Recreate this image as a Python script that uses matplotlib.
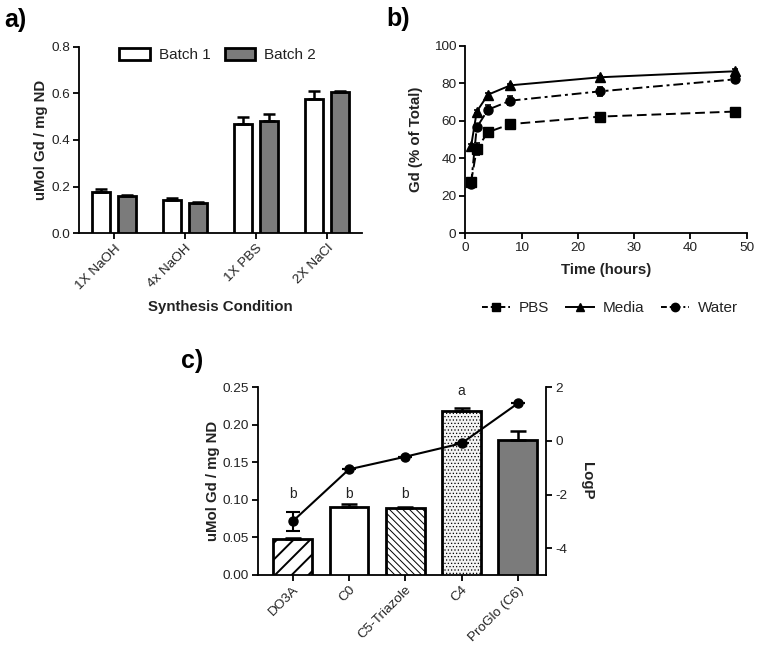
import matplotlib
matplotlib.use("Agg")
import matplotlib.pyplot as plt
import numpy as np
from matplotlib.patches import Patch
from matplotlib.lines import Line2D

plt.rcParams['font.family'] = ['Liberation Sans', 'DejaVu Sans']
plt.rcParams['axes.unicode_minus'] = False
plt.rcParams['hatch.linewidth'] = 1.3

# ---------- data ----------
# panel a
cond_labels = ["1X NaOH", "4x NaOH", "1X PBS", "2X NaCl"]
batch1 = [0.178, 0.143, 0.469, 0.576]
batch1_err = [0.012, 0.008, 0.028, 0.035]
batch2 = [0.161, 0.130, 0.483, 0.604]
batch2_err = [0.002, 0.003, 0.028, 0.006]

# panel b
time_h = [1, 2, 4, 8, 24, 48]
pbs = [27.5, 45.0, 54.0, 58.3, 62.3, 65.0]
pbs_err = [1.5, 3.0, 1.2, 1.0, 1.0, 1.0]
media = [46.5, 65.0, 74.0, 79.0, 83.3, 86.5]
media_err = [1.0, 1.0, 1.0, 0.8, 0.8, 1.0]
water = [26.5, 56.5, 66.0, 70.8, 75.8, 82.2]
water_err = [1.5, 1.5, 2.5, 2.5, 2.5, 1.5]

# panel c
chel_labels = ["DO3A", "C0", "C5-Triazole", "C4", "ProGlo (C6)"]
gd_vals = [0.048, 0.091, 0.089, 0.219, 0.180]
gd_err = [0.001, 0.004, 0.002, 0.003, 0.012]
sig_letters = ["b", "b", "b", "a", ""]
sig_heights = [0.108, 0.108, 0.108, 0.245, 0.0]
logp = [-3.0, -1.06, -0.59, -0.09, 1.4]
logp_err = [0.35, 0, 0, 0, 0]

TXT = '#222222'
TICK = 9.7
LAB = 10.8

fig = plt.figure(figsize=(7.58, 6.52), dpi=100)

def style_ax(ax):
    for s in ['top', 'right']:
        ax.spines[s].set_visible(False)
    for s in ['left', 'bottom']:
        ax.spines[s].set_linewidth(1.3)
    ax.tick_params(direction='out', length=4, width=1.3, pad=2.5, labelsize=TICK,
                   colors='black', labelcolor=TXT)

# ---------- panel a ----------
axa = fig.add_axes([0.1046, 0.6422, 0.3726, 0.2862])
style_ax(axa)
x = np.arange(len(cond_labels))
w = 0.26
off = 0.185
axa.bar(x - off, batch1, w, color='white', edgecolor='black', linewidth=2,
        yerr=[np.zeros(len(x)), batch1_err], capsize=4.5,
        error_kw=dict(elinewidth=1.8, capthick=1.8, ecolor='black'), zorder=3)
axa.bar(x + off, batch2, w, color='#7b7b7b', edgecolor='black', linewidth=2,
        yerr=[np.zeros(len(x)), batch2_err], capsize=4.5,
        error_kw=dict(elinewidth=1.8, capthick=1.8, ecolor='black'), zorder=3)
axa.set_xlim(-0.49, 3.49)
axa.set_ylim(0, 0.8)
axa.set_yticks([0.0, 0.2, 0.4, 0.6, 0.8])
axa.set_yticklabels(["0.0", "0.2", "0.4", "0.6", "0.8"])
axa.set_xticks(x)
axa.set_xticklabels(cond_labels, rotation=45, ha='right', rotation_mode='anchor')
axa.set_ylabel("uMol Gd / mg ND", fontsize=LAB, fontweight='bold', color=TXT)
axa.yaxis.set_label_coords(-0.111, 0.5)
axa.set_xlabel("Synthesis Condition", fontsize=LAB, fontweight='bold', color=TXT)
axa.xaxis.set_label_coords(0.5, -0.357)
leg_a = axa.legend(handles=[Patch(facecolor='white', edgecolor='black', linewidth=2, label='Batch 1'),
                            Patch(facecolor='#7b7b7b', edgecolor='black', linewidth=2, label='Batch 2')],
                   loc='center', bbox_to_anchor=(0.49, 0.955), ncol=2, frameon=False,
                   fontsize=11, handlelength=2.0, handleheight=0.9, columnspacing=0.9,
                   handletextpad=0.6)
for t in leg_a.get_texts():
    t.set_color(TXT)

# ---------- panel b ----------
axb = fig.add_axes([0.6141, 0.6422, 0.371, 0.2873])
style_ax(axb)
ekw = dict(elinewidth=1.2, capsize=2.5, capthick=1.2, ecolor='black')
axb.errorbar(time_h, pbs, yerr=pbs_err, color='black', marker='s', markersize=6.5,
             linestyle=(0, (5, 2.5)), linewidth=1.4, **ekw, zorder=3)
axb.errorbar(time_h, media, yerr=media_err, color='black', marker='^', markersize=6.5,
             linestyle='-', linewidth=1.4, **ekw, zorder=3)
axb.errorbar(time_h, water, yerr=water_err, color='black', marker='o', markersize=6.5,
             linestyle=(0, (5, 2, 1.5, 2)), linewidth=1.4, **ekw, zorder=3)
axb.set_xlim(0, 50)
axb.set_ylim(0, 100)
axb.set_xticks([0, 10, 20, 30, 40, 50])
axb.set_yticks([0, 20, 40, 60, 80, 100])
axb.set_ylabel("Gd (% of Total)", fontsize=LAB, fontweight='bold', color=TXT)
axb.yaxis.set_label_coords(-0.150, 0.5)
axb.set_xlabel("Time (hours)", fontsize=LAB, fontweight='bold', color=TXT)
axb.xaxis.set_label_coords(0.5, -0.159)
hb = [Line2D([], [], color='black', marker='s', markersize=6, linestyle=(0, (3, 1.5)), linewidth=1.4, label='PBS'),
      Line2D([], [], color='black', marker='^', markersize=6, linestyle='-', linewidth=1.4, label='Media'),
      Line2D([], [], color='black', marker='o', markersize=6, linestyle=(0, (3, 1.5, 1, 1.5)), linewidth=1.4, label='Water')]
leg_b = axb.legend(handles=hb, loc='center', bbox_to_anchor=(0.514, -0.399), ncol=3,
                   frameon=False, fontsize=11, handlelength=1.8, columnspacing=1.1,
                   handletextpad=0.6)
for t in leg_b.get_texts():
    t.set_color(TXT)

# ---------- panel c ----------
axc = fig.add_axes([0.34, 0.1181, 0.3803, 0.2879])
style_ax(axc)
xc = np.arange(len(chel_labels))
faces = ['white', 'white', 'white', '#f4f4f4', '#7b7b7b']
hatches = ['//', None, '\\\\\\\\\\', '.....', None]
hatch_lw = [1.4, 0, 0.7, 0.5, 0]
bars = axc.bar(xc, gd_vals, 0.69, color=faces, edgecolor='black', linewidth=2,
               yerr=[np.zeros(len(xc)), gd_err], capsize=6,
               error_kw=dict(elinewidth=1.8, capthick=1.8, ecolor='black'), zorder=3)
for b, h, hl in zip(bars, hatches, hatch_lw):
    if h:
        b.set_hatch(h)
        if hasattr(b, 'set_hatch_linewidth'):
            b.set_hatch_linewidth(hl)
for xi, s, hgt in zip(xc, sig_letters, sig_heights):
    if s:
        axc.text(xi, hgt, s, ha='center', va='center', fontsize=10, color=TXT)
axc.set_xlim(-0.62, 4.5)
axc.set_ylim(0, 0.25)
axc.set_yticks([0.0, 0.05, 0.10, 0.15, 0.20, 0.25])
axc.set_yticklabels(["0.00", "0.05", "0.10", "0.15", "0.20", "0.25"])
axc.set_xticks(xc)
axc.set_xticklabels(chel_labels, rotation=45, ha='right', rotation_mode='anchor')
axc.set_ylabel("uMol Gd / mg ND", fontsize=LAB, fontweight='bold', color=TXT)
axc.yaxis.set_label_coords(-0.132, 0.5)

ax2 = axc.twinx()
for s in ['top', 'left', 'bottom']:
    ax2.spines[s].set_visible(False)
ax2.spines['right'].set_linewidth(1.3)
ax2.tick_params(direction='out', length=4, width=1.3, pad=2.5, labelsize=TICK, labelcolor=TXT)
ax2.errorbar(xc, logp, yerr=logp_err, color='black', marker='o', markersize=6.5,
             linewidth=1.5, elinewidth=1.5, capsize=5, capthick=1.5, zorder=4)
ax2.set_ylim(-5, 2)
ax2.set_yticks([-4, -2, 0, 2])
ax2.set_ylabel("LogP", fontsize=LAB, fontweight='bold', color=TXT, rotation=270)
ax2.yaxis.set_label_coords(1.1665, 0.5)

# panel labels
fig.text(15 / 758, 1 - 20 / 652, "a)", fontsize=18, fontweight='bold', ha='center', va='center', color='black')
fig.text(398 / 758, 1 - 19 / 652, "b)", fontsize=18, fontweight='bold', ha='center', va='center', color='black')
fig.text(192 / 758, 1 - 361 / 652, "c)", fontsize=18, fontweight='bold', ha='center', va='center', color='black')

fig.savefig("out.png", dpi=100)
